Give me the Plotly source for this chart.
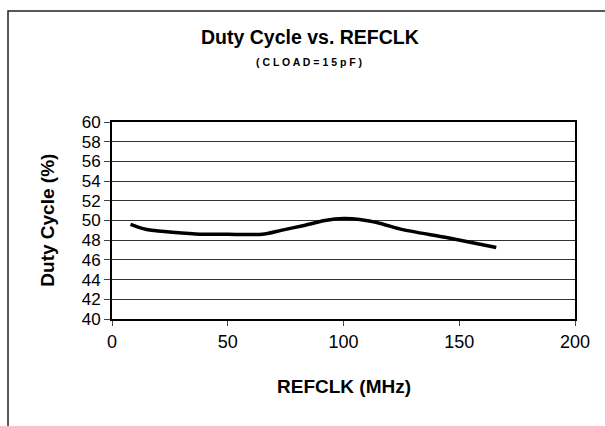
import plotly.graph_objects as go

# REFCLK (MHz) vs duty cycle (%)
refclk_mhz = [8, 13, 17, 26, 38, 50, 65, 73, 83, 92, 100, 107, 116, 125, 145, 166]
duty_cycle = [49.6, 49.2, 49.0, 48.8, 48.6, 48.6, 48.6, 49.0, 49.5, 50.0, 50.2, 50.1, 49.7, 49.1, 48.25, 47.25]

x_ticks = [0, 50, 100, 150, 200]
y_ticks = list(range(40, 61, 2))

FONT = "Liberation Sans, Arial, sans-serif"

fig = go.Figure()
fig.add_trace(go.Scatter(
    x=refclk_mhz,
    y=duty_cycle,
    mode="lines",
    line=dict(color="black", width=3.5, shape="spline", smoothing=0.6),
    showlegend=False,
    hoverinfo="skip",
))

fig.update_layout(
    width=605,
    height=426,
    margin=dict(l=112, r=30, t=122, b=107),
    paper_bgcolor="white",
    plot_bgcolor="white",
    font=dict(family=FONT, color="black"),
    showlegend=False,
)

fig.update_xaxes(
    range=[0, 200],
    tickvals=x_ticks,
    ticks="outside",
    ticklen=5,
    tickcolor="#444",
    tickfont=dict(size=18),
    showgrid=False,
    showline=True,
    linecolor="black",
    linewidth=2,
    mirror=True,
    zeroline=False,
)
fig.update_yaxes(
    range=[40, 60],
    tickvals=y_ticks,
    ticks="outside",
    ticklen=6,
    tickcolor="#444",
    tickfont=dict(size=17),
    showgrid=True,
    gridcolor="#333",
    gridwidth=1,
    showline=True,
    linecolor="black",
    linewidth=2,
    mirror=True,
    zeroline=False,
)

# titles placed as annotations (chart title sits a bit left of plot centre)
annots = [
    dict(text="<b>Duty Cycle vs. REFCLK</b>", x=0.428, y=1.431, font=dict(size=19.5)),
    dict(text="<b>( C L O A D = 1 5 p F )</b>", x=0.425, y=1.305, font=dict(size=10.5)),
    dict(text="<b>REFCLK (MHz)</b>", x=0.5, y=-0.345, font=dict(size=19)),
    dict(text="<b>Duty Cycle (%)</b>", x=-0.14, y=0.5, textangle=-90, font=dict(size=19)),
]
for a in annots:
    fig.add_annotation(xref="paper", yref="paper", showarrow=False,
                       xanchor="center", yanchor="middle", **a)

# outer chart border (clipped by window on right and bottom)
fig.add_shape(type="rect", xref="paper", yref="paper",
              x0=-0.2246, y0=-2, x1=2, y1=1.5635,
              line=dict(color="#222", width=1.5), layer="below")

# drop the default page margin so the figure sits at the window origin
fig.write_html("out.html", config={"displayModeBar": False},
               post_script="document.body.style.margin='0';")
